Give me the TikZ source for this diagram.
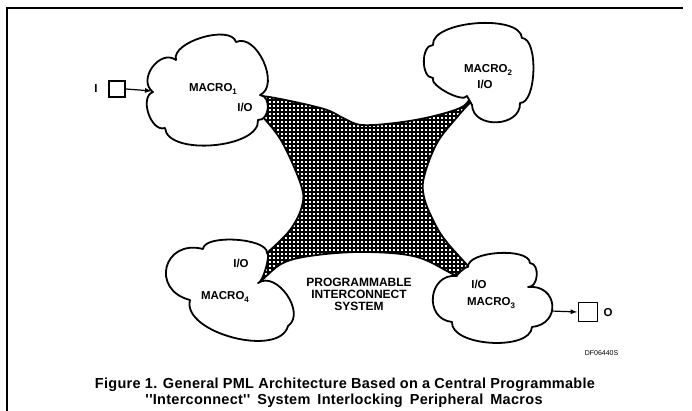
\documentclass[tikz,border=0pt]{standalone}
\usepackage{fontspec}
\setmainfont{Liberation Sans}
\usetikzlibrary{arrows.meta}
\newcommand\mysub[1]{\raisebox{-0.45ex}{\fontsize{8pt}{9pt}\selectfont #1}}
\newcommand\dq{\textquotesingle\kern0.5pt\textquotesingle}
\begin{document}
\begin{tikzpicture}[x=1pt, y=-1pt,
  cloudline/.style={line width=1.8pt, fill=white, line join=round},
  hatchedge/.style={line width=1.8pt, line join=round},
  lbl/.style={font=\fontsize{11.5pt}{13pt}\selectfont\bfseries, inner sep=0pt},
  pis/.style={font=\fontsize{12pt}{13pt}\selectfont\bfseries, inner sep=0pt, align=center},
  sq/.style={draw, line width=1.8pt, minimum size=16pt, inner sep=0pt},
  arr/.style={line width=1.2pt, -{Latex[length=7pt,width=5pt]}},
  frameline/.style={line width=1.2pt},
  captext/.style={font=\fontsize{14.5pt}{16pt}\selectfont\bfseries\addfontfeature{LetterSpace=2}, inner sep=0pt, anchor=base},
  lb/.style={bend left=90, looseness=#1}]
\useasboundingbox (0,0) rectangle (692,411);
% frame
\draw[frameline] (7,411) -- (7,8) -- (683,8);
% hatched interconnect
\def\hatchpath{plot[smooth, tension=0.6] coordinates {(252,100) (261,96) (295,102) (327,110) (345,119) (362,125) (395,123) (430,117) (460,108) (470,99) (476,90)}
 -- plot[smooth, tension=0.6] coordinates {(476,92) (474,98) (458,116) (437,143) (424,177) (424,197) (433,220) (445,240) (468,266) (480,280)}
 -- plot[smooth, tension=0.6] coordinates {(480,282) (457,276) (417,257) (367,252) (317,255) (283,263) (258,283) (246,284)}
 -- plot[smooth, tension=0.6] coordinates {(246,282) (256,262) (267,253) (290,230) (302,206) (301,185) (282,142) (262,116) (250,104)} -- cycle}
\begin{scope}
  \clip \hatchpath;
  \foreach \k in {236,240,...,484} {\draw[line width=1.05pt] (\k,80) -- (\k,300);}
  \foreach \k in {80,84,...,300} {\draw[line width=1.05pt] (236,\k) -- (484,\k);}
\end{scope}
\draw[hatchedge] \hatchpath;
% clouds
\draw[cloudline] (153,92) to[lb=1.3] (176,60) to[lb=0.77] (236,42) to[lb=1.0] (260,95) to[lb=1.2] (258,120) to[lb=0.78] (165,128) to[lb=1.0] cycle;
\draw[cloudline] (433,45) to[lb=0.7] (522,38) to[lb=0.65] (520,103) to[lb=1.3] (472,105) -- (467,96) to[lb=0.55] (433,78) to[lb=0.95] cycle;
\draw[cloudline] (258,283) to[lb=1.1] (288,326) to[lb=0.85] (190,300) to[lb=2.0] (203,249) to[lb=0.6] (267,253) to[lb=0.35] cycle;
\draw[cloudline] (468,267) to[lb=0.66] (530,263) to[lb=1.1] (528,287) to[lb=1.9] (532,327) to[lb=0.78] (452,322) to[lb=1.6] (457,276) to[lb=0.3] cycle;
% labels
\node[lbl] (m1) at (213,89) {MACRO\mysub{1}};
\node[lbl] (m1io) at (245,107) {I/O};
\node[lbl] (m2) at (488,70) {MACRO\mysub{2}};
\node[lbl] (m2io) at (485,84) {I/O};
\node[lbl] (m4) at (225,297) {MACRO\mysub{4}};
\node[lbl] (m4io) at (241,263) {I/O};
\node[lbl] (m3io) at (479,284) {I/O};
\node[lbl] (m3) at (491,303) {MACRO\mysub{3}};
\node[pis] (pis) at (359,294) {PROGRAMMABLE\\[-1pt]INTERCONNECT\\[-1pt]SYSTEM};
% input / output
\node[sq] (insq) at (117,89) {};
\node[lbl] (ilbl) at (96,89) {I};
\coordinate (m1in) at (152,91);
\draw[arr] (insq.east) -- (m1in);
\node[sq, minimum size=19pt] (outsq) at (588,312) {};
\node[lbl] (olbl) at (608,313) {O};
\coordinate (m3out) at (551,311);
\draw[arr] (m3out) -- (outsq.west);
\node[font=\fontsize{7pt}{8pt}\selectfont, inner sep=0pt] (df) at (601.5,353.5) {DF06440S};
% caption
\node[captext] (cap1) at (345,388) {\spaceskip=4.2pt plus 1pt minus 1pt Figure 1. General PML Architecture Based on a Central Programmable};
\node[captext] (cap2) at (344,404) {\spaceskip=7pt plus 1pt minus 1pt \dq Interconnect\dq\ System Interlocking Peripheral Macros};
\end{tikzpicture}
\end{document}
